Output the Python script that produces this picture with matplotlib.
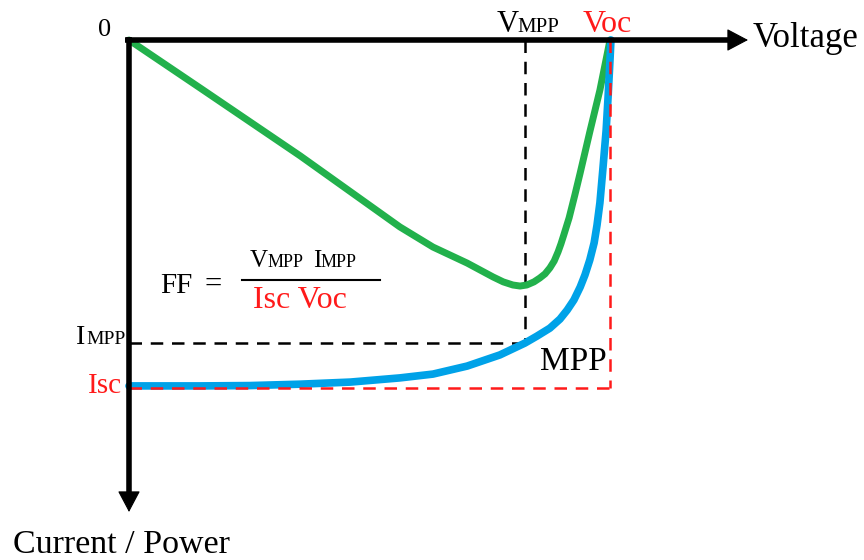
import matplotlib
matplotlib.use("Agg")
import matplotlib.pyplot as plt
from matplotlib.transforms import Affine2D

# normalised values (Voc = 1, Isc = 1)
voltage_iv = [0.0, 0.148, 0.252, 0.356, 0.460, 0.563, 0.632, 0.703, 0.771, 0.823,
              0.848, 0.875, 0.896, 0.911, 0.925, 0.938, 0.948, 0.958, 0.967,
              0.973, 0.979, 0.985, 0.992, 0.996, 1.0, 1.002]
current_iv = [0.994, 0.994, 0.993, 0.989, 0.983, 0.971, 0.960, 0.937, 0.905, 0.871,
              0.851, 0.828, 0.802, 0.776, 0.747, 0.710, 0.675, 0.632, 0.583,
              0.532, 0.468, 0.374, 0.259, 0.164, 0.057, 0.0]

voltage_p = [0.0, 0.148, 0.356, 0.563, 0.632, 0.703, 0.730, 0.757, 0.778, 0.798,
             0.813, 0.827, 0.842, 0.854, 0.865, 0.875, 0.884, 0.892, 0.898, 0.904,
             0.915, 0.927, 0.938, 0.958, 0.979, 1.0]
power_p = [0.0, 0.138, 0.333, 0.537, 0.595, 0.641, 0.661, 0.681, 0.695, 0.704,
           0.707, 0.704, 0.695, 0.684, 0.672, 0.655, 0.635, 0.609, 0.586, 0.560,
           0.511, 0.445, 0.382, 0.264, 0.144, 0.0]

v_mpp = 0.823
i_mpp = 0.871
v_oc = 1.0
i_sc = 1.0

W, H = 864, 560
GREEN = "#22B14C"
BLUE = "#00A2E8"
RED = "#FF1A1A"
FONT = "Liberation Serif"

fig = plt.figure(figsize=(W / 100, H / 100), dpi=100)
ax = fig.add_axes([0, 0, 1, 1])
ax.axis("off")

# origin of the diagram sits at pixel (129, 40); Voc at x=610, Isc at y=388
x0, sx = 129, 481
y0, sy = 40, 348
ax.set_xlim(-x0 / sx, (W - x0) / sx)
ax.set_ylim((H - y0) / sy, -y0 / sy)


def px(x, y):
    return (x - x0) / sx, (y - y0) / sy


# pixel transform for text placement (origin top-left)
pix = Affine2D().scale(1 / W, -1 / H).translate(0, 1) + fig.transFigure

# dashed guides
dash = (5, 3.5)
ax.plot([v_mpp, v_mpp], [0, i_mpp], color="black", lw=1.8, dashes=dash, zorder=1)
ax.plot([0, v_mpp], [i_mpp, i_mpp], color="black", lw=1.8, dashes=dash, zorder=1)

# curves
ax.plot(voltage_p, power_p, color=GREEN, lw=5, solid_joinstyle="round",
        solid_capstyle="round", zorder=2)
ax.plot(voltage_iv, current_iv, color=BLUE, lw=5.5, solid_joinstyle="round",
        solid_capstyle="round", zorder=2)

ax.plot([v_oc, v_oc], [0, i_sc], color=RED, lw=1.8, dashes=dash, zorder=3)
ax.plot([0, v_oc], [i_sc, i_sc], color=RED, lw=1.8, dashes=dash, zorder=3)

# axes: thick shafts plus filled heads
hx0, hy0 = px(125, 40)
hx1, hy1 = px(735, 40)
ax.plot([hx0, hx1], [hy0, hy1], color="black", lw=4, solid_capstyle="butt", zorder=4)
vx0, vy0 = px(129, 37)
vx1, vy1 = px(129, 500)
ax.plot([vx0, vx1], [vy0, vy1], color="black", lw=4, solid_capstyle="butt", zorder=4)

head = dict(arrowstyle="-|>,head_length=0.68,head_width=0.36", lw=0.8,
            color="black", shrinkA=0, shrinkB=0, mutation_scale=20)
ax.annotate("", xy=px(748, 40), xytext=px(720, 40), arrowprops=head, zorder=4)
ax.annotate("", xy=px(129, 512), xytext=px(129, 484), arrowprops=head, zorder=4)


def label(x, y, s, size, color="black", ha="left"):
    ax.text(x, y, s, transform=pix, fontsize=size, family=FONT, color=color,
            ha=ha, va="baseline")


label(105, 36, "0", 19, ha="center")
label(497, 32, "V", 22)
label(517, 32, "MPP", 15)
label(583, 32, "Voc", 23, RED)
label(753, 47, "Voltage", 25)
label(76, 344, "I", 20)
label(86, 344, "MPP", 14)
label(88, 393, "Isc", 21, RED)
label(540, 370, "MPP", 24)
label(13, 553, "Current / Power", 24.5)

# fill factor formula
label(160, 293, "FF", 21)
label(205, 293, "=", 22)
label(250, 267, "V", 18)
label(268, 267, "MPP", 13)
label(313, 267, "I", 18)
label(321, 267, "MPP", 13)
ax.plot([px(242, 280)[0], px(380, 280)[0]], [px(242, 280)[1]] * 2,
        color="black", lw=1.5)
label(253, 308, "Isc Voc", 23, RED)

fig.savefig("out.png", dpi=100)
